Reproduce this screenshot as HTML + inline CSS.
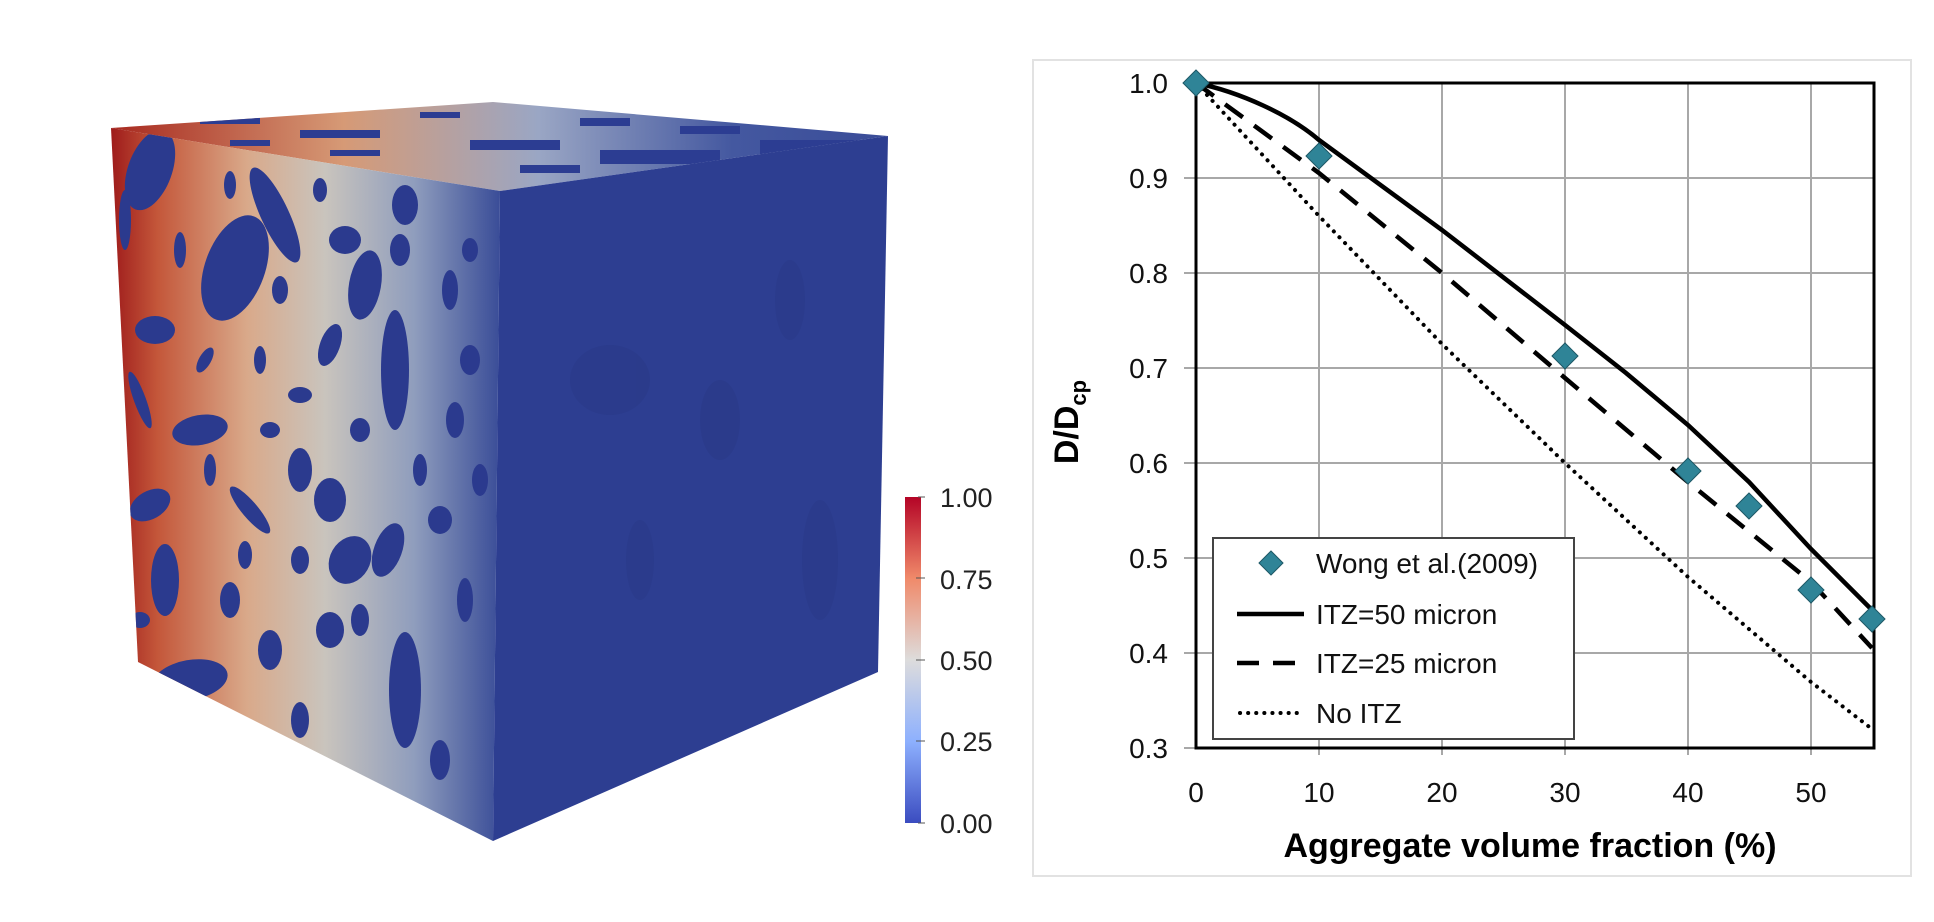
<!DOCTYPE html>
<html><head><meta charset="utf-8"><style>
html,body{margin:0;padding:0;background:#fff;}
svg{display:block;}
text{font-family:"Liberation Sans","DejaVu Sans",sans-serif;}
</style></head><body>
<svg width="1934" height="922" viewBox="0 0 1934 922" xmlns="http://www.w3.org/2000/svg">
<defs>
<linearGradient id="lg" x1="111" y1="0" x2="500" y2="0" gradientUnits="userSpaceOnUse">
<stop offset="0" stop-color="#9e1b1b"/>
<stop offset="0.12" stop-color="#c4573a"/>
<stop offset="0.35" stop-color="#d9a98a"/>
<stop offset="0.55" stop-color="#c9c4bd"/>
<stop offset="0.78" stop-color="#8f9dbd"/>
<stop offset="1" stop-color="#3a4d98"/>
</linearGradient>
<linearGradient id="tg" x1="111" y1="0" x2="888" y2="0" gradientUnits="userSpaceOnUse">
<stop offset="0" stop-color="#a8291f"/>
<stop offset="0.3" stop-color="#d69a76"/>
<stop offset="0.55" stop-color="#9aa6c4"/>
<stop offset="0.8" stop-color="#4458a0"/>
<stop offset="1" stop-color="#3a4c98"/>
</linearGradient>
<linearGradient id="cb" x1="0" y1="497" x2="0" y2="823" gradientUnits="userSpaceOnUse">
<stop offset="0" stop-color="#b40426"/>
<stop offset="0.25" stop-color="#f08a6a"/>
<stop offset="0.5" stop-color="#dddcdc"/>
<stop offset="0.75" stop-color="#8db0fe"/>
<stop offset="1" stop-color="#3b4cc0"/>
</linearGradient>
<clipPath id="lf"><polygon points="111,128 500,191 493,841 138,662"/></clipPath>
<clipPath id="tf"><polygon points="111,128 493,102 888,136 500,191"/></clipPath>
</defs>

<polygon points="111,128 493,102 888,136 500,191" fill="url(#tg)"/>
<g clip-path="url(#tf)" fill="#2c3d92">
<rect x="200" y="118" width="60" height="6"/><rect x="300" y="130" width="80" height="8"/>
<rect x="420" y="112" width="40" height="6"/><rect x="330" y="150" width="50" height="6"/>
<rect x="470" y="140" width="90" height="10"/><rect x="580" y="118" width="50" height="8"/>
<rect x="600" y="150" width="120" height="14"/><rect x="680" y="126" width="60" height="8"/>
<rect x="230" y="140" width="40" height="6"/><rect x="520" y="165" width="60" height="8"/>
<rect x="760" y="140" width="130" height="30"/>
</g>
<polygon points="111,128 500,191 493,841 138,662" fill="url(#lg)"/>
<g clip-path="url(#lf)" fill="#2b3a8e">
<ellipse cx="150" cy="170" rx="22" ry="42" transform="rotate(20 150 170)"/>
<ellipse cx="235" cy="268" rx="30" ry="55" transform="rotate(20 235 268)"/>
<ellipse cx="275" cy="215" rx="14" ry="52" transform="rotate(-25 275 215)"/>
<ellipse cx="200" cy="430" rx="28" ry="15" transform="rotate(-10 200 430)"/>
<ellipse cx="155" cy="330" rx="20" ry="14"/>
<ellipse cx="365" cy="285" rx="16" ry="35" transform="rotate(10 365 285)"/>
<ellipse cx="345" cy="240" rx="16" ry="14"/>
<ellipse cx="400" cy="250" rx="10" ry="16"/>
<ellipse cx="405" cy="205" rx="13" ry="20"/>
<ellipse cx="395" cy="370" rx="14" ry="60"/>
<ellipse cx="330" cy="345" rx="10" ry="22" transform="rotate(20 330 345)"/>
<ellipse cx="300" cy="470" rx="12" ry="22"/>
<ellipse cx="330" cy="500" rx="16" ry="22"/>
<ellipse cx="350" cy="560" rx="20" ry="25" transform="rotate(30 350 560)"/>
<ellipse cx="388" cy="550" rx="14" ry="28" transform="rotate(20 388 550)"/>
<ellipse cx="405" cy="690" rx="16" ry="58"/>
<ellipse cx="330" cy="630" rx="14" ry="18"/>
<ellipse cx="190" cy="680" rx="38" ry="20" transform="rotate(-10 190 680)" />
<ellipse cx="165" cy="580" rx="14" ry="36"/>
<ellipse cx="150" cy="505" rx="22" ry="14" transform="rotate(-30 150 505)"/>
<ellipse cx="250" cy="510" rx="8" ry="30" transform="rotate(-40 250 510)"/>
<ellipse cx="230" cy="600" rx="10" ry="18"/>
<ellipse cx="270" cy="650" rx="12" ry="20"/>
<ellipse cx="125" cy="220" rx="6" ry="30"/>
<ellipse cx="140" cy="400" rx="6" ry="30" transform="rotate(-20 140 400)"/>
<ellipse cx="450" cy="290" rx="8" ry="20"/>
<ellipse cx="455" cy="420" rx="9" ry="18"/>
<ellipse cx="440" cy="520" rx="12" ry="14"/>
<ellipse cx="465" cy="600" rx="8" ry="22"/>
<ellipse cx="300" cy="395" rx="12" ry="8"/>
<ellipse cx="260" cy="360" rx="6" ry="14"/>
<ellipse cx="205" cy="360" rx="6" ry="14" transform="rotate(30 205 360)"/>
<ellipse cx="180" cy="250" rx="6" ry="18"/>
<ellipse cx="320" cy="190" rx="7" ry="12"/>
<ellipse cx="230" cy="185" rx="6" ry="14"/>
<ellipse cx="270" cy="430" rx="10" ry="8"/>
<ellipse cx="245" cy="555" rx="7" ry="14"/>
<ellipse cx="300" cy="560" rx="9" ry="14"/>
<ellipse cx="280" cy="290" rx="8" ry="14"/>
<ellipse cx="420" cy="470" rx="7" ry="16"/>
<ellipse cx="360" cy="430" rx="10" ry="12"/>
<ellipse cx="470" cy="360" rx="10" ry="15"/>
<ellipse cx="480" cy="480" rx="8" ry="16"/>
<ellipse cx="210" cy="470" rx="6" ry="16"/>
<ellipse cx="360" cy="620" rx="9" ry="16"/>
<ellipse cx="440" cy="760" rx="10" ry="20"/>
<ellipse cx="140" cy="620" rx="10" ry="8"/>
<ellipse cx="300" cy="720" rx="9" ry="18"/>
<ellipse cx="470" cy="250" rx="8" ry="12"/>
</g>
<polygon points="500,191 888,136 878,672 493,841" fill="#2d3e91"/>
<g fill="#2a3a88" opacity="0.6">
<ellipse cx="610" cy="380" rx="40" ry="35"/><ellipse cx="720" cy="420" rx="20" ry="40"/>
<ellipse cx="820" cy="560" rx="18" ry="60"/><ellipse cx="640" cy="560" rx="14" ry="40"/>
<ellipse cx="790" cy="300" rx="15" ry="40"/>
</g>

<rect x="905" y="497" width="16" height="326" fill="url(#cb)"/>
<g stroke="#555" stroke-width="1">
<line x1="918" y1="497" x2="925" y2="497"/><line x1="916" y1="578" x2="925" y2="578"/>
<line x1="916" y1="660" x2="925" y2="660"/><line x1="916" y1="741" x2="925" y2="741"/>
<line x1="918" y1="823" x2="925" y2="823"/>
</g>
<g font-size="27" fill="#222">
<text x="940" y="507">1.00</text><text x="940" y="589">0.75</text>
<text x="940" y="670">0.50</text><text x="940" y="751">0.25</text><text x="940" y="833">0.00</text>
</g>

<rect x="1033" y="60" width="878" height="816" fill="none" stroke="#e2e2e2" stroke-width="2"/>
<g stroke="#a8a8a8" stroke-width="2">
<line x1="1319" y1="83" x2="1319" y2="755"/><line x1="1442" y1="83" x2="1442" y2="755"/>
<line x1="1565" y1="83" x2="1565" y2="755"/><line x1="1688" y1="83" x2="1688" y2="755"/>
<line x1="1811" y1="83" x2="1811" y2="755"/>
<line x1="1184" y1="178" x2="1874" y2="178"/><line x1="1184" y1="273" x2="1874" y2="273"/>
<line x1="1184" y1="368" x2="1874" y2="368"/><line x1="1184" y1="463" x2="1874" y2="463"/>
<line x1="1184" y1="558" x2="1874" y2="558"/><line x1="1184" y1="653" x2="1874" y2="653"/>
<line x1="1184" y1="748" x2="1196" y2="748"/><line x1="1184" y1="83" x2="1196" y2="83"/>
</g>
<rect x="1196" y="83" width="678" height="665" fill="none" stroke="#000" stroke-width="3"/>
<g font-size="28" fill="#111" text-anchor="end">
<text x="1168" y="93">1.0</text><text x="1168" y="188">0.9</text><text x="1168" y="283">0.8</text>
<text x="1168" y="378">0.7</text><text x="1168" y="473">0.6</text><text x="1168" y="568">0.5</text>
<text x="1168" y="663">0.4</text><text x="1168" y="758">0.3</text>
</g>
<g font-size="28" fill="#111" text-anchor="middle">
<text x="1196" y="802">0</text><text x="1319" y="802">10</text><text x="1442" y="802">20</text>
<text x="1565" y="802">30</text><text x="1688" y="802">40</text><text x="1811" y="802">50</text>
</g>
<text x="1530" y="857" font-size="34" font-weight="bold" text-anchor="middle" fill="#000">Aggregate volume fraction (%)</text>
<text transform="translate(1078,422) rotate(-90)" font-size="34" font-weight="bold" text-anchor="middle" fill="#000">D/D<tspan font-size="22" dy="8">cp</tspan></text>

<polyline fill="none" stroke="#000" stroke-width="4" stroke-dasharray="0.1 8" stroke-linecap="round"
 points="1196,83 1319,216 1442,344 1565,463 1688,577 1811,682 1872,729"/>
<polyline fill="none" stroke="#000" stroke-width="4.5" stroke-dasharray="22 14"
 points="1196,83 1319,173 1442,273 1565,378 1688,482 1811,582 1872,648"/>
<path fill="none" stroke="#000" stroke-width="4.5"
 d="M1196,83 C1240,92 1290,115 1319,140 L1442,230 L1565,325 L1626,373 L1688,425 L1749,482 L1811,549 L1872,610"/>
<g fill="#2f8497" stroke="#1d5866" stroke-width="1">
<polygon points="1196,70 1209,83 1196,96 1183,83"/>
<polygon points="1319,143 1332,156 1319,169 1306,156"/>
<polygon points="1565,343 1578,356 1565,369 1552,356"/>
<polygon points="1688,458 1701,471 1688,484 1675,471"/>
<polygon points="1749,493 1762,506 1749,519 1736,506"/>
<polygon points="1811,577 1824,590 1811,603 1798,590"/>
<polygon points="1872,606 1885,619 1872,632 1859,619"/>
</g>

<rect x="1213" y="538" width="361" height="201" fill="#fff" stroke="#444" stroke-width="2"/>
<polygon points="1271,551 1283,563 1271,575 1259,563" fill="#2f8497" stroke="#1d5866"/>
<line x1="1237" y1="614" x2="1304" y2="614" stroke="#000" stroke-width="4.5"/>
<line x1="1237" y1="663" x2="1304" y2="663" stroke="#000" stroke-width="4.5" stroke-dasharray="22 14"/>
<line x1="1240" y1="713" x2="1304" y2="713" stroke="#000" stroke-width="4" stroke-dasharray="0.1 8" stroke-linecap="round"/>
<g font-size="28" fill="#111">
<text x="1316" y="573">Wong et al.(2009)</text>
<text x="1316" y="624">ITZ=50 micron</text>
<text x="1316" y="673">ITZ=25 micron</text>
<text x="1316" y="723">No ITZ</text>
</g>
</svg>
</body></html>
